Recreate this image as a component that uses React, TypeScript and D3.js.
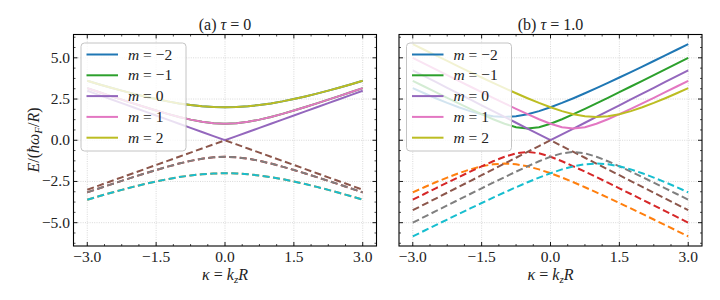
import * as d3 from "d3";

// kappa grid (k_z R)
const KAPPA = [
  -3, -2.75, -2.5, -2.25, -2, -1.75, -1.5, -1.25, -1, -0.75, -0.5, -0.25, 0,
  0.25, 0.5, 0.75, 1, 1.25, 1.5, 1.75, 2, 2.25, 2.5, 2.75, 3,
];

const M_VALUES = [-2, -1, 0, 1, 2];
const UPPER_COLORS = ["#1f77b4", "#2ca02c", "#9467bd", "#e377c2", "#bcbd22"];
const LOWER_COLORS = ["#ff7f0e", "#d62728", "#8c564b", "#7f7f7f", "#17becf"];

// panel (a) tau = 0, upper (solid) branches per m
const A_UP_MN2 = [3.606, 3.4, 3.202, 3.01, 2.828, 2.658, 2.5, 2.358, 2.236, 2.136, 2.062, 2.016, 2, 2.016, 2.062, 2.136, 2.236, 2.358, 2.5, 2.658, 2.828, 3.01, 3.202, 3.4, 3.606];
const A_UP_MN1 = [3.162, 2.926, 2.693, 2.462, 2.236, 2.016, 1.803, 1.601, 1.414, 1.25, 1.118, 1.031, 1, 1.031, 1.118, 1.25, 1.414, 1.601, 1.803, 2.016, 2.236, 2.462, 2.693, 2.926, 3.162];
const A_UP_M0 = [3, 2.75, 2.5, 2.25, 2, 1.75, 1.5, 1.25, 1, 0.75, 0.5, 0.25, 0, 0.25, 0.5, 0.75, 1, 1.25, 1.5, 1.75, 2, 2.25, 2.5, 2.75, 3];
const A_UP_M1 = [3.162, 2.926, 2.693, 2.462, 2.236, 2.016, 1.803, 1.601, 1.414, 1.25, 1.118, 1.031, 1, 1.031, 1.118, 1.25, 1.414, 1.601, 1.803, 2.016, 2.236, 2.462, 2.693, 2.926, 3.162];
const A_UP_M2 = [3.606, 3.4, 3.202, 3.01, 2.828, 2.658, 2.5, 2.358, 2.236, 2.136, 2.062, 2.016, 2, 2.016, 2.062, 2.136, 2.236, 2.358, 2.5, 2.658, 2.828, 3.01, 3.202, 3.4, 3.606];

// panel (a) lower (dashed) branches per m
const A_LO_MN2 = [-3.606, -3.4, -3.202, -3.01, -2.828, -2.658, -2.5, -2.358, -2.236, -2.136, -2.062, -2.016, -2, -2.016, -2.062, -2.136, -2.236, -2.358, -2.5, -2.658, -2.828, -3.01, -3.202, -3.4, -3.606];
const A_LO_MN1 = [-3.162, -2.926, -2.693, -2.462, -2.236, -2.016, -1.803, -1.601, -1.414, -1.25, -1.118, -1.031, -1, -1.031, -1.118, -1.25, -1.414, -1.601, -1.803, -2.016, -2.236, -2.462, -2.693, -2.926, -3.162];
const A_LO_M0 = [-3, -2.75, -2.5, -2.25, -2, -1.75, -1.5, -1.25, -1, -0.75, -0.5, -0.25, 0, -0.25, -0.5, -0.75, -1, -1.25, -1.5, -1.75, -2, -2.25, -2.5, -2.75, -3];
const A_LO_M1 = [-3.162, -2.926, -2.693, -2.462, -2.236, -2.016, -1.803, -1.601, -1.414, -1.25, -1.118, -1.031, -1, -1.031, -1.118, -1.25, -1.414, -1.601, -1.803, -2.016, -2.236, -2.462, -2.693, -2.926, -3.162];
const A_LO_M2 = [-3.606, -3.4, -3.202, -3.01, -2.828, -2.658, -2.5, -2.358, -2.236, -2.136, -2.062, -2.016, -2, -2.016, -2.062, -2.136, -2.236, -2.358, -2.5, -2.658, -2.828, -3.01, -3.202, -3.4, -3.606];

// panel (b) tau = 1.0, upper branches
const B_UP_MN2 = [3.162, 2.85, 2.55, 2.264, 2.0, 1.768, 1.581, 1.458, 1.414, 1.458, 1.581, 1.768, 2.0, 2.264, 2.55, 2.85, 3.162, 3.482, 3.808, 4.138, 4.472, 4.809, 5.148, 5.489, 5.831];
const B_UP_MN1 = [3.606, 3.26, 2.915, 2.574, 2.236, 1.904, 1.581, 1.275, 1.0, 0.791, 0.707, 0.791, 1.0, 1.275, 1.581, 1.904, 2.236, 2.574, 2.915, 3.26, 3.606, 3.953, 4.301, 4.65, 5.0];
const B_UP_M0 = [4.243, 3.889, 3.536, 3.182, 2.828, 2.475, 2.121, 1.768, 1.414, 1.061, 0.707, 0.354, 0, 0.354, 0.707, 1.061, 1.414, 1.768, 2.121, 2.475, 2.828, 3.182, 3.536, 3.889, 4.243];
const B_UP_M1 = [5.0, 4.65, 4.301, 3.953, 3.606, 3.26, 2.915, 2.574, 2.236, 1.904, 1.581, 1.275, 1.0, 0.791, 0.707, 0.791, 1.0, 1.275, 1.581, 1.904, 2.236, 2.574, 2.915, 3.26, 3.606];
const B_UP_M2 = [5.831, 5.489, 5.148, 4.809, 4.472, 4.138, 3.808, 3.482, 3.162, 2.85, 2.55, 2.264, 2.0, 1.768, 1.581, 1.458, 1.414, 1.458, 1.581, 1.768, 2.0, 2.264, 2.55, 2.85, 3.162];

// panel (b) lower branches
const B_LO_MN2 = [-3.162, -2.85, -2.55, -2.264, -2.0, -1.768, -1.581, -1.458, -1.414, -1.458, -1.581, -1.768, -2.0, -2.264, -2.55, -2.85, -3.162, -3.482, -3.808, -4.138, -4.472, -4.809, -5.148, -5.489, -5.831];
const B_LO_MN1 = [-3.606, -3.26, -2.915, -2.574, -2.236, -1.904, -1.581, -1.275, -1.0, -0.791, -0.707, -0.791, -1.0, -1.275, -1.581, -1.904, -2.236, -2.574, -2.915, -3.26, -3.606, -3.953, -4.301, -4.65, -5.0];
const B_LO_M0 = [-4.243, -3.889, -3.536, -3.182, -2.828, -2.475, -2.121, -1.768, -1.414, -1.061, -0.707, -0.354, 0, -0.354, -0.707, -1.061, -1.414, -1.768, -2.121, -2.475, -2.828, -3.182, -3.536, -3.889, -4.243];
const B_LO_M1 = [-5.0, -4.65, -4.301, -3.953, -3.606, -3.26, -2.915, -2.574, -2.236, -1.904, -1.581, -1.275, -1.0, -0.791, -0.707, -0.791, -1.0, -1.275, -1.581, -1.904, -2.236, -2.574, -2.915, -3.26, -3.606];
const B_LO_M2 = [-5.831, -5.489, -5.148, -4.809, -4.472, -4.138, -3.808, -3.482, -3.162, -2.85, -2.55, -2.264, -2.0, -1.768, -1.581, -1.458, -1.414, -1.458, -1.581, -1.768, -2.0, -2.264, -2.55, -2.85, -3.162];

const X_TICKS = [-3, -1.5, 0, 1.5, 3];
const Y_TICKS = [-5, -2.5, 0, 2.5, 5];

const FONT = "Liberation Serif";
const W = 720;
const H = 300;
const TOP = 34.5;
const BOTTOM = 246;

const fmt = (v: number) => (v < 0 ? "\u2212" : "") + Math.abs(v).toFixed(1);

function minorTicks(major: number[], step: number) {
  const out: number[] = [];
  for (let i = 0; i < major.length - 1; i++) {
    for (let k = 1; k < 4; k++) out.push(major[i] + (k * step) / 4);
  }
  // extra minors outside first/last major
  for (let k = 1; k < 4; k++) {
    out.push(major[0] - (k * step) / 4);
    out.push(major[major.length - 1] + (k * step) / 4);
  }
  return out;
}

interface PanelProps {
  left: number;
  right: number;
  title: string;
  tau: string;
  upper: number[][];
  lower: number[][];
  showYLabels: boolean;
}

function Panel({ left, right, tau, title, upper, lower, showYLabels }: PanelProps) {
  const x = d3.scaleLinear().domain([-3.3, 3.3]).range([left, right]);
  const y = d3.scaleLinear().domain([-6.415, 6.415]).range([BOTTOM, TOP]);
  const line = d3
    .line<number>()
    .x((_, i) => x(KAPPA[i]))
    .y((d) => y(d))
    .curve(d3.curveLinear);

  const xMinor = minorTicks(X_TICKS, 1.5).filter((v) => v > -3.3 && v < 3.3);
  const yMinor = minorTicks(Y_TICKS, 2.5).filter((v) => v > -6.415 && v < 6.415);

  const legLeft = left + 7.5;
  const legTop = 43;
  const rowH = 20.8;

  return (
    <g>
      {/* grid */}
      {X_TICKS.map((t) => (
        <line key={"gx" + t} x1={x(t)} x2={x(t)} y1={TOP} y2={BOTTOM} stroke="#c8c8c8" strokeWidth={0.7} strokeDasharray="1,1.3" />
      ))}
      {Y_TICKS.map((t) => (
        <line key={"gy" + t} x1={left} x2={right} y1={y(t)} y2={y(t)} stroke="#c8c8c8" strokeWidth={0.7} strokeDasharray="1,1.3" />
      ))}

      {/* curves */}
      {M_VALUES.map((m, i) => (
        <g key={"c" + m}>
          <path d={line(upper[i]) || ""} fill="none" stroke={UPPER_COLORS[i]} strokeWidth={2} />
          <path d={line(lower[i]) || ""} fill="none" stroke={LOWER_COLORS[i]} strokeWidth={2} strokeDasharray="7,3.5" />
        </g>
      ))}

      {/* frame */}
      <rect x={left} y={TOP} width={right - left} height={BOTTOM - TOP} fill="none" stroke="#000" strokeWidth={1.1} />

      {/* ticks, inward on all sides */}
      {X_TICKS.map((t) => (
        <g key={"tx" + t}>
          <line x1={x(t)} x2={x(t)} y1={BOTTOM} y2={BOTTOM - 4} stroke="#000" strokeWidth={0.9} />
          <line x1={x(t)} x2={x(t)} y1={TOP} y2={TOP + 4} stroke="#000" strokeWidth={0.9} />
          <text x={x(t)} y={261.5} textAnchor="middle" style={{ fontFamily: FONT }} fontSize={15.5} fill="#222">
            {fmt(t)}
          </text>
        </g>
      ))}
      {xMinor.map((t) => (
        <g key={"mx" + t}>
          <line x1={x(t)} x2={x(t)} y1={BOTTOM} y2={BOTTOM - 2} stroke="#000" strokeWidth={0.7} />
          <line x1={x(t)} x2={x(t)} y1={TOP} y2={TOP + 2} stroke="#000" strokeWidth={0.7} />
        </g>
      ))}
      {Y_TICKS.map((t) => (
        <g key={"ty" + t}>
          <line x1={left} x2={left + 4} y1={y(t)} y2={y(t)} stroke="#000" strokeWidth={0.9} />
          <line x1={right} x2={right - 4} y1={y(t)} y2={y(t)} stroke="#000" strokeWidth={0.9} />
          {showYLabels && (
            <text x={left - 3.5} y={y(t) + 5} textAnchor="end" style={{ fontFamily: FONT }} fontSize={15.5} fill="#222">
              {fmt(t)}
            </text>
          )}
        </g>
      ))}
      {yMinor.map((t) => (
        <g key={"my" + t}>
          <line x1={left} x2={left + 2} y1={y(t)} y2={y(t)} stroke="#000" strokeWidth={0.7} />
          <line x1={right} x2={right - 2} y1={y(t)} y2={y(t)} stroke="#000" strokeWidth={0.7} />
        </g>
      ))}

      {/* title */}
      <text x={(left + right) / 2} y={30} textAnchor="middle" style={{ fontFamily: FONT }} fontSize={16} fill="#222">
        {title} <tspan fontStyle="italic">τ</tspan> = {tau}
      </text>

      {/* x label */}
      <text x={(left + right) / 2} y={280} textAnchor="middle" style={{ fontFamily: FONT }} fontSize={16} fill="#222">
        <tspan fontStyle="italic">κ</tspan> = <tspan fontStyle="italic">k</tspan>
        <tspan fontSize={11} dy={3} fontStyle="italic">z</tspan>
        <tspan dy={-3} fontStyle="italic">R</tspan>
      </text>

      {/* legend */}
      <rect x={legLeft} y={legTop} width={105} height={108} rx={3.5} fill="#fff" fillOpacity={0.8} stroke="#c4c4c4" strokeWidth={1} />
      {M_VALUES.map((m, i) => (
        <g key={"l" + m}>
          <line x1={legLeft + 5.5} x2={legLeft + 37} y1={legTop + 11.5 + i * rowH} y2={legTop + 11.5 + i * rowH} stroke={UPPER_COLORS[i]} strokeWidth={2} />
          <text x={legLeft + 47} y={legTop + 16.5 + i * rowH} style={{ fontFamily: FONT }} fontSize={15.5} fill="#222">
            <tspan fontStyle="italic">m</tspan> = {m < 0 ? "\u2212" + Math.abs(m) : m}
          </text>
        </g>
      ))}
    </g>
  );
}

export default function App() {
  return (
    <svg width={W} height={H} fontFamily={FONT} style={{ position: "absolute", left: 0, top: 0, background: "#fff", fontFamily: FONT }}>
      <rect width={W} height={H} fill="#fff" />
      <Panel
        left={73.5}
        right={376.5}
        title="(a)"
        tau="0"
        upper={[A_UP_MN2, A_UP_MN1, A_UP_M0, A_UP_M1, A_UP_M2]}
        lower={[A_LO_MN2, A_LO_MN1, A_LO_M0, A_LO_M1, A_LO_M2]}
        showYLabels={true}
      />
      <Panel
        left={399}
        right={702}
        title="(b)"
        tau="1.0"
        upper={[B_UP_MN2, B_UP_MN1, B_UP_M0, B_UP_M1, B_UP_M2]}
        lower={[B_LO_MN2, B_LO_MN1, B_LO_M0, B_LO_M1, B_LO_M2]}
        showYLabels={false}
      />
      {/* y label */}
      <text transform="translate(39,140) rotate(-90)" textAnchor="middle" style={{ fontFamily: FONT }} fontSize={16} fill="#222">
        <tspan fontStyle="italic">E</tspan>/(<tspan fontStyle="italic">ħω</tspan>
        <tspan fontSize={11} dy={3} fontStyle="italic">F</tspan>
        <tspan dy={-3}>/</tspan>
        <tspan fontStyle="italic">R</tspan>)
      </text>
    </svg>
  );
}
